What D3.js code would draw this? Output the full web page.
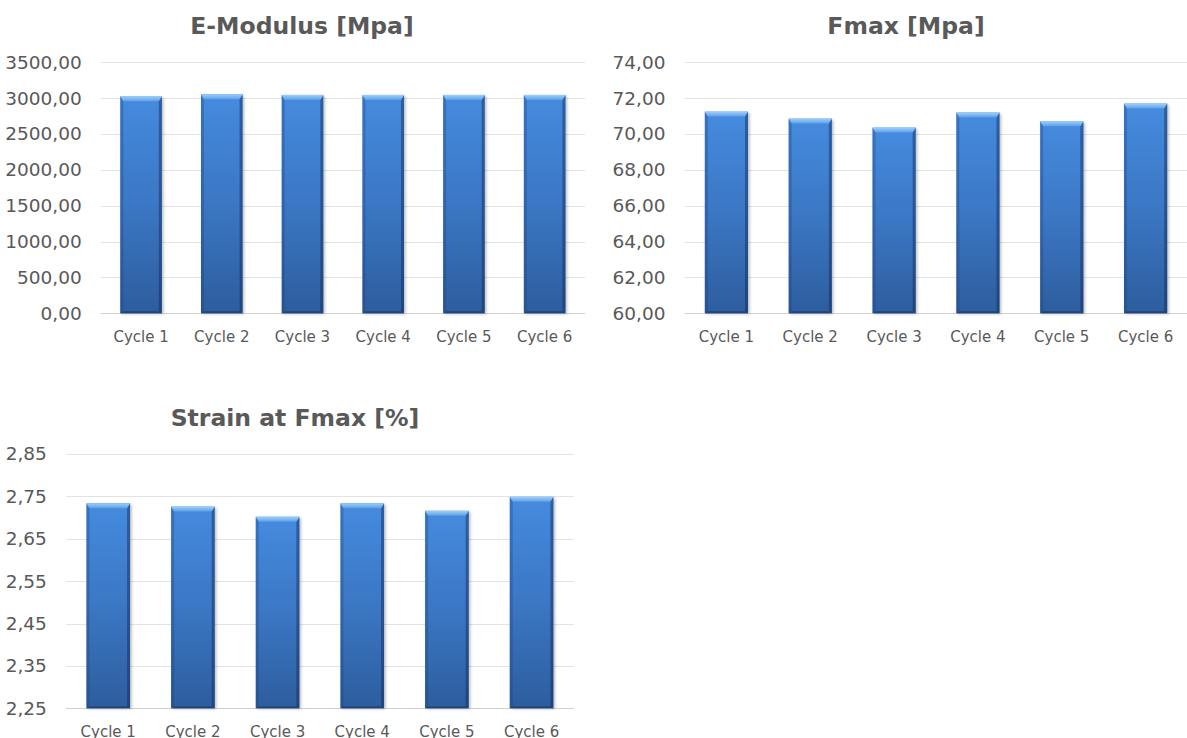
<!DOCTYPE html>
<html>
<head>
<meta charset="utf-8">
<script src="https://cdn.jsdelivr.net/npm/d3@7"></script>
<style>
  body { margin: 0; background: #ffffff; }
  svg { display: block; font-family: "DejaVu Sans", Verdana, sans-serif; }
</style>
</head>
<body>
<svg id="chart" width="1187" height="738"></svg>
<script>
// Test results per loading cycle
const categories = ["Cycle 1", "Cycle 2", "Cycle 3", "Cycle 4", "Cycle 5", "Cycle 6"];

const eModulus = [3025, 3055, 3045, 3045, 3045, 3045];
const fmax = [71.25, 70.86, 70.36, 71.20, 70.71, 71.70];
const strainAtFmax = [2.734, 2.726, 2.702, 2.734, 2.716, 2.749];

const eModulusTicks = [0, 500, 1000, 1500, 2000, 2500, 3000, 3500];
const fmaxTicks = [60, 62, 64, 66, 68, 70, 72, 74];
const strainTicks = [2.25, 2.35, 2.45, 2.55, 2.65, 2.75, 2.85];

const titles = ["E-Modulus [Mpa]", "Fmax [Mpa]", "Strain at Fmax [%]"];

// Decimal comma, no thousands grouping
const locale = d3.formatLocale({ decimal: ",", thousands: ".", grouping: [3] });
const fmt = locale.format(".2f");

const panels = [
  { title: titles[0], values: eModulus, ticks: eModulusTicks,
    left: 100.7, right: 585, top: 62.3, bottom: 313.3, titleX: 302, titleY: 34 },
  { title: titles[1], values: fmax, ticks: fmaxTicks,
    left: 684.5, right: 1187.5, top: 62.3, bottom: 313.3, titleX: 906, titleY: 34 },
  { title: titles[2], values: strainAtFmax, ticks: strainTicks,
    left: 65.9, right: 573.9, top: 454, bottom: 708.3, titleX: 295, titleY: 426 }
];

const svg = d3.select("#chart");
const defs = svg.append("defs");

// Body gradient of the bars
const bodyGrad = defs.append("linearGradient").attr("id", "barBody")
  .attr("x1", 0).attr("y1", 0).attr("x2", 0).attr("y2", 1);
bodyGrad.append("stop").attr("offset", "0%").attr("stop-color", "#458bde");
bodyGrad.append("stop").attr("offset", "50%").attr("stop-color", "#3b77c4");
bodyGrad.append("stop").attr("offset", "100%").attr("stop-color", "#2d5d9d");

// Light bevel on top edge
const topGrad = defs.append("linearGradient").attr("id", "barTop")
  .attr("x1", 0).attr("y1", 0).attr("x2", 0).attr("y2", 1);
topGrad.append("stop").attr("offset", "0%").attr("stop-color", "#9fd0fa");
topGrad.append("stop").attr("offset", "100%").attr("stop-color", "#5b9fe8");

// Soft shadow
const shadow = defs.append("filter").attr("id", "barShadow")
  .attr("x", "-20%").attr("y", "-20%").attr("width", "140%").attr("height", "140%");
shadow.append("feGaussianBlur").attr("stdDeviation", 1.6);

panels.forEach(p => {
  const g = svg.append("g");

  const x = d3.scaleBand()
    .domain(categories)
    .range([p.left, p.right])
    .paddingInner(0.485)
    .paddingOuter(0.2425);

  const y = d3.scaleLinear()
    .domain([p.ticks[0], p.ticks[p.ticks.length - 1]])
    .range([p.bottom, p.top]);

  // Horizontal gridlines
  g.append("g").selectAll("line")
    .data(p.ticks)
    .join("line")
    .attr("x1", p.left).attr("x2", p.right)
    .attr("y1", d => Math.round(y(d)) + 0.5)
    .attr("y2", d => Math.round(y(d)) + 0.5)
    .attr("stroke", (d, i) => i === 0 ? "#d0d0d0" : "#e3e3e3")
    .attr("stroke-width", 1.2);

  // Value axis
  const yAxis = d3.axisLeft(y)
    .tickValues(p.ticks)
    .tickFormat(fmt)
    .tickSize(0)
    .tickPadding(19);
  const ya = g.append("g").attr("transform", `translate(${p.left},0)`).call(yAxis);
  ya.select(".domain").remove();
  ya.attr("font-family", null).attr("font-size", null);
  ya.selectAll("text")
    .attr("fill", "#595959")
    .style("font-size", "18.5px");

  // Category axis
  const xAxis = d3.axisBottom(x).tickSize(0).tickPadding(0);
  const xa = g.append("g").attr("transform", `translate(0,${p.bottom})`).call(xAxis);
  xa.select(".domain").remove();
  xa.attr("font-family", null).attr("font-size", null);
  xa.selectAll("text")
    .attr("y", 29)
    .attr("dy", 0)
    .attr("fill", "#595959")
    .style("font-size", "15px");

  // Bars
  const bars = g.append("g").selectAll("g")
    .data(p.values.map((v, i) => ({ cat: categories[i], v })))
    .join("g");

  const bw = x.bandwidth();
  const bev = 5, side = 3;

  bars.append("rect")
    .attr("x", d => x(d.cat) + 1.5)
    .attr("y", d => y(d.v) + 1.5)
    .attr("width", bw)
    .attr("height", d => p.bottom - y(d.v) - 1)
    .attr("fill", "rgba(0,0,0,0.28)")
    .attr("filter", "url(#barShadow)");

  bars.append("rect")
    .attr("x", d => x(d.cat))
    .attr("y", d => y(d.v))
    .attr("width", bw)
    .attr("height", d => p.bottom - y(d.v))
    .attr("fill", "url(#barBody)");

  // Left edge
  bars.append("polygon")
    .attr("points", d => {
      const x0 = x(d.cat), y0 = y(d.v);
      return [[x0, y0], [x0 + side, y0 + bev], [x0 + side, p.bottom - 2], [x0, p.bottom]].join(" ");
    })
    .attr("fill", "rgba(25,60,120,0.30)");

  // Right edge
  bars.append("polygon")
    .attr("points", d => {
      const x1 = x(d.cat) + bw, y0 = y(d.v);
      return [[x1, y0], [x1 - side, y0 + bev], [x1 - side, p.bottom - 2], [x1, p.bottom]].join(" ");
    })
    .attr("fill", "rgba(15,40,90,0.45)");

  // Bottom edge
  bars.append("polygon")
    .attr("points", d => {
      const x0 = x(d.cat), x1 = x0 + bw;
      return [[x0, p.bottom], [x0 + side, p.bottom - 2], [x1 - side, p.bottom - 2], [x1, p.bottom]].join(" ");
    })
    .attr("fill", "rgba(15,40,90,0.45)");

  // Top bevel
  bars.append("polygon")
    .attr("points", d => {
      const x0 = x(d.cat), x1 = x0 + bw, y0 = y(d.v);
      return [[x0, y0], [x1, y0], [x1 - side, y0 + bev], [x0 + side, y0 + bev]].join(" ");
    })
    .attr("fill", "url(#barTop)");

  // Title
  g.append("text")
    .attr("x", p.titleX)
    .attr("y", p.titleY)
    .attr("text-anchor", "middle")
    .attr("fill", "#595959")
    .style("font-size", "23.5px")
    .style("font-weight", "bold")
    .text(p.title);
});
</script>
</body>
</html>
